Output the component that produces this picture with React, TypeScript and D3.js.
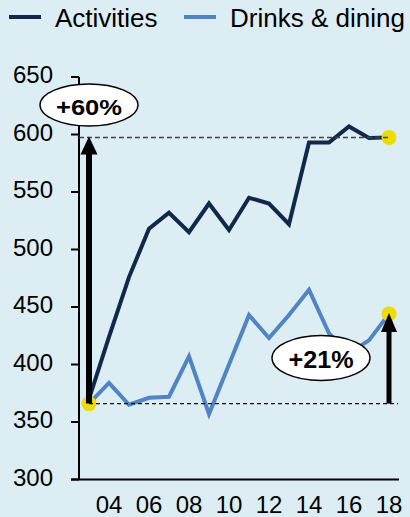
import React from "react";
import * as d3 from "d3";

const years = [2003, 2004, 2005, 2006, 2007, 2008, 2009, 2010, 2011, 2012, 2013, 2014, 2015, 2016, 2017, 2018];
const activities = [370, 424, 476, 518, 532, 515, 540, 517, 545, 540, 522, 593, 593, 607, 597, 597.5];
const drinks = [366, 384, 365, 371, 372, 407, 357, 400, 443, 423, 443, 465, 427, 410, 421, 444];
const yTicks = [300, 350, 400, 450, 500, 550, 600, 650];
const xTickYears = [2004, 2006, 2008, 2010, 2012, 2014, 2016, 2018];
const seriesNames = ["Activities", "Drinks & dining"];
const baseValue = 366;
const labels = ["+60%", "+21%"];

const W = 410;
const H = 517;
const BG = "#dcedf3";
const NAVY = "#11284a";
const BLUE = "#5084c2";
const YELLOW = "#eedb00";
const FONT = "'Liberation Sans', Arial, Helvetica, sans-serif";

export default function App() {
  const x = d3.scaleLinear().domain([2003, 2018]).range([89, 389]);
  const y = d3.scaleLinear().domain([300, 650]).range([479.5, 77]);
  const line = d3
    .line<number>()
    .x((_, i) => x(years[i]))
    .y((d) => y(d));

  const axisX0 = 79;
  const axisY0 = y(300);
  const lastAct = activities[activities.length - 1];
  const lastDr = drinks[drinks.length - 1];

  const arrow = (xc: number, yFrom: number, yTip: number, headH: number, headW: number, sw: number, key: string) => (
    <g key={key}>
      <line x1={xc} x2={xc} y1={yFrom} y2={yTip + headH - 1} stroke="#000" strokeWidth={sw} />
      <path d={`M${xc},${yTip} L${xc - headW / 2},${yTip + headH} L${xc + headW / 2},${yTip + headH} Z`} fill="#000" />
    </g>
  );

  return (
    <svg width={W} height={H} style={{ position: "absolute", left: 0, top: 0, display: "block" }} fontFamily={FONT}>
      <rect x={0} y={0} width={W} height={H} fill={BG} />

      {/* legend */}
      <line x1={9} x2={41} y1={17} y2={17} stroke={NAVY} strokeWidth={4} />
      <text x={55} y={27} fontSize={26} fill="#000">{seriesNames[0]}</text>
      <line x1={184} x2={216} y1={17} y2={17} stroke={BLUE} strokeWidth={4} />
      <text x={230} y={27} fontSize={26} fill="#000">{seriesNames[1]}</text>

      {/* y axis */}
      <line x1={axisX0} x2={axisX0} y1={y(650)} y2={axisY0} stroke="#000" strokeWidth={2} />
      {yTicks.map((t) => (
        <g key={t}>
          <line x1={71} x2={axisX0} y1={y(t)} y2={y(t)} stroke="#000" strokeWidth={2} />
          <text x={53} y={y(t) + 6} fontSize={24} textAnchor="end" fill="#000">{t}</text>
        </g>
      ))}

      {/* x axis */}
      <line x1={axisX0 - 8} x2={399} y1={axisY0} y2={axisY0} stroke="#000" strokeWidth={2} />
      {xTickYears.map((yr) => (
        <text key={yr} x={x(yr)} y={513} fontSize={24} textAnchor="middle" fill="#000">
          {String(yr).slice(2)}
        </text>
      ))}

      {/* series */}
      <path d={line(drinks) || ""} fill="none" stroke={BLUE} strokeWidth={4} strokeLinejoin="miter" />
      <path d={line(activities) || ""} fill="none" stroke={NAVY} strokeWidth={4} strokeLinejoin="miter" />

      {/* yellow dots */}
      <circle cx={x(2003)} cy={y(baseValue)} r={7.5} fill={YELLOW} />
      <circle cx={x(2018)} cy={y(lastDr)} r={7.5} fill={YELLOW} />
      <circle cx={x(2018)} cy={y(lastAct)} r={7.5} fill={YELLOW} />

      {/* dashed reference lines */}
      <line x1={axisX0} x2={x(2018)} y1={y(lastAct)} y2={y(lastAct)} stroke="#444" strokeWidth={1.5} strokeDasharray="5,3" />
      <line x1={x(2003)} x2={398} y1={y(baseValue)} y2={y(baseValue)} stroke="#111" strokeWidth={1.2} strokeDasharray="4,3" />

      {/* arrows */}
      {arrow(x(2003), y(baseValue), y(lastAct) - 1, 18, 17, 6, "a1")}
      {arrow(x(2018), y(baseValue), y(lastDr) - 1, 19, 16, 5, "a2")}

      {/* labels */}
      <ellipse cx={89} cy={105} rx={49} ry={21} fill="#fff" stroke="#000" strokeWidth={1.4} />
      <text x={89} y={114.5} fontSize={22} fontWeight="bold" textAnchor="middle" fill="#000" textLength={66} lengthAdjust="spacingAndGlyphs">{labels[0]}</text>
      <ellipse cx={321} cy={358} rx={49} ry={22.5} fill="#fff" stroke="#000" strokeWidth={1.4} />
      <text x={321} y={367.5} fontSize={23} fontWeight="bold" textAnchor="middle" fill="#000" textLength={65} lengthAdjust="spacingAndGlyphs">{labels[1]}</text>
    </svg>
  );
}
